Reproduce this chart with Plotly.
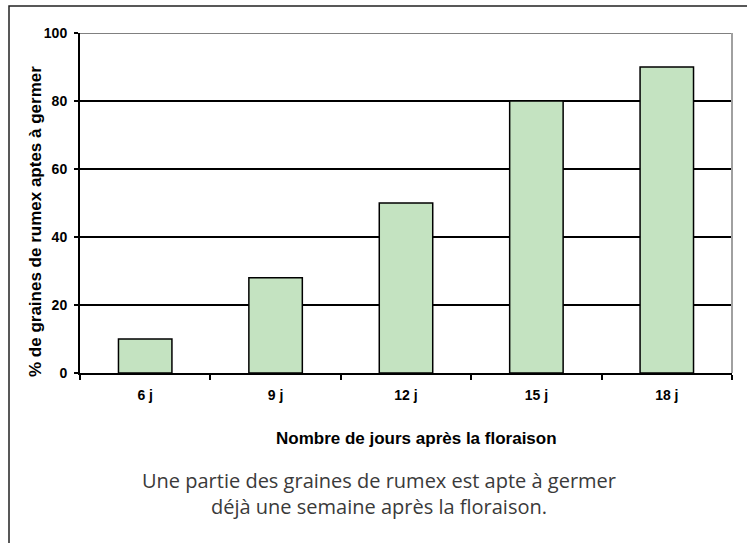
import plotly.graph_objects as go

categories = ["6 j", "9 j", "12 j", "15 j", "18 j"]
values = [10, 28, 50, 80, 90]
y_ticks = [0, 20, 40, 60, 80, 100]

y_title = "% de graines de rumex aptes à germer"
x_title = "Nombre de jours après la floraison"
caption_lines = ["Une partie des graines de rumex est apte à germer",
                 "déjà une semaine après la floraison."]

W, H = 747, 543
L, R, T, B = 80, 15, 33, 170
PW, PH = W - L - R, H - T - B

def px(x):
    return (x - L) / PW

def py(y):
    return (H - B - y) / PH

narrow = "Liberation Sans Narrow, Arial Narrow, Liberation Sans, Arial"

fig = go.Figure(go.Bar(
    x=categories, y=values,
    marker=dict(color="#c4e3c1", line=dict(color="black", width=1.5)),
    width=0.41,
))

fig.update_layout(
    width=W, height=H,
    margin=dict(l=L, r=R, t=T, b=B),
    paper_bgcolor="white", plot_bgcolor="white",
    showlegend=False,
    xaxis=dict(
        type="category", tickson="boundaries", ticks="outside", ticklen=5,
        tickcolor="black", tickwidth=1.5, showline=True, linecolor="black",
        linewidth=2, showgrid=False, ticklabelstandoff=8,
        tickfont=dict(family=narrow, size=14, color="black", weight="bold"),
    ),
    yaxis=dict(
        range=[0, 100], tickvals=y_ticks, ticks="outside", ticklen=4,
        tickcolor="black", tickwidth=1.5, showline=True, linecolor="black",
        linewidth=2, showgrid=True, gridcolor="black", gridwidth=1.5,
        zeroline=False, ticklabelstandoff=4,
        tickfont=dict(family=narrow, size=14, color="black", weight="bold"),
    ),
    font=dict(family=narrow),
)

# plot-area frame (grey top & right)
fig.add_shape(type="line", xref="paper", yref="y", x0=0, x1=1, y0=100, y1=100,
              line=dict(color="#808080", width=2))
fig.add_shape(type="line", xref="paper", yref="y", x0=1, x1=1, y0=0, y1=100,
              line=dict(color="#a0a0a0", width=2))

# outer border (left and top visible)
fig.add_shape(type="rect", xref="paper", yref="paper",
              x0=px(9), x1=px(770), y0=py(6), y1=py(570),
              line=dict(color="#222222", width=1.5), layer="below")

fig.add_annotation(text=y_title, xref="paper", yref="paper", x=px(35), y=py(222),
                   textangle=-90, showarrow=False, xanchor="center", yanchor="middle",
                   font=dict(family=narrow, size=17, color="black", weight="bold"))
fig.add_annotation(text=x_title, xref="paper", yref="paper", x=px(416), y=py(438),
                   showarrow=False, xanchor="center", yanchor="middle",
                   font=dict(family=narrow, size=17, color="black", weight="bold"))
fig.add_annotation(text="<br>".join(caption_lines), xref="paper", yref="paper",
                   x=px(379), y=py(493), showarrow=False, align="center",
                   xanchor="center", yanchor="middle",
                   font=dict(family="Open Sans, Noto Sans", size=20, color="#3a3a3a"))

fig.write_html("out.html", config={"displayModeBar": False},
               post_script="document.body.style.margin='0px';")
